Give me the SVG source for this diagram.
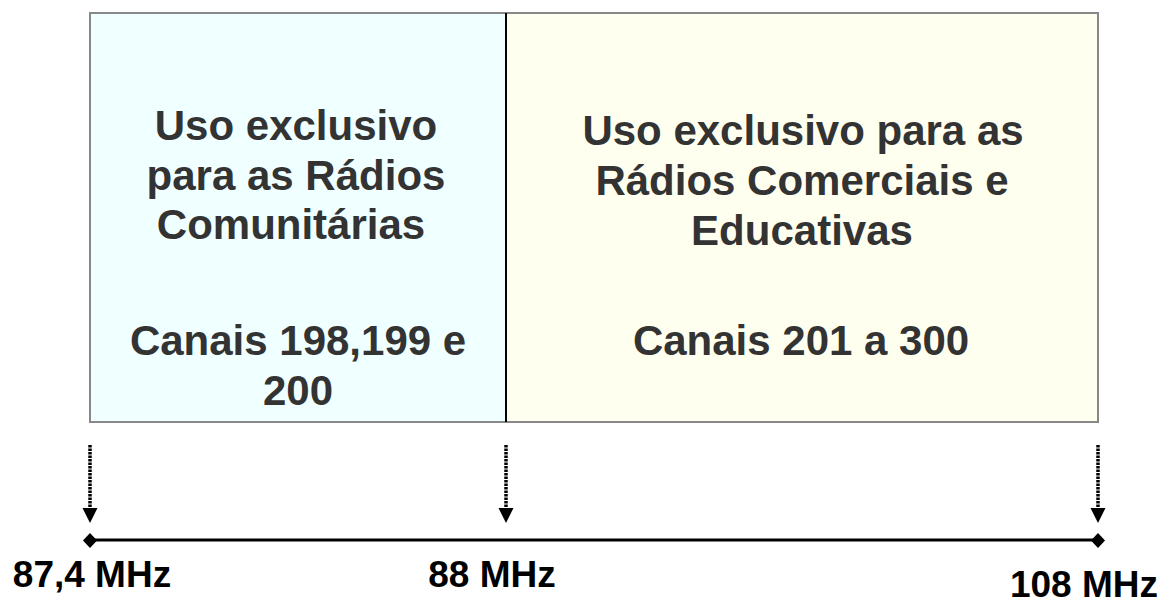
<svg xmlns="http://www.w3.org/2000/svg" width="1163" height="606" viewBox="0 0 1163 606">
<defs>
<style>
.t{font-family:"Liberation Sans",Arial,sans-serif;font-weight:bold;font-size:42px;fill:#333333;text-anchor:middle}
.l{font-family:"Liberation Sans",Arial,sans-serif;font-weight:bold;font-size:37px;fill:#000000;text-anchor:middle}
.dot{stroke:#000;stroke-width:3.5;stroke-dasharray:2.5 1;fill:none}
.ah{fill:#000}
</style>
</defs>
<rect width="1163" height="606" fill="#ffffff"/>
<g id="box-comunitarias">
<rect x="90" y="13" width="416" height="409" fill="#F0FFFF" stroke="#888888" stroke-width="2"/>
<text class="t" x="296" y="140">Uso exclusivo</text>
<text class="t" x="296" y="190">para as Rádios</text>
<text class="t" x="291" y="239">Comunitárias</text>
<text class="t" x="298" y="355">Canais 198,199 e</text>
<text class="t" x="298" y="405">200</text>
</g>
<g id="box-comerciais">
<rect x="506" y="13" width="592" height="409" fill="#FFFFF0" stroke="#888888" stroke-width="2"/>
<text class="t" x="803" y="145">Uso exclusivo para as</text>
<text class="t" x="802" y="195">Rádios Comerciais e</text>
<text class="t" x="802" y="245">Educativas</text>
<text class="t" x="801" y="355">Canais 201 a 300</text>
</g>
<line x1="506" y1="13" x2="506" y2="422" stroke="#000" stroke-width="2"/>
<g id="axis">
<line x1="90" y1="540" x2="1098" y2="540" stroke="#000" stroke-width="3"/>
<polygon class="ah" points="90,533 97,540.5 90,548 83,540.5"/>
<polygon class="ah" points="1098,533 1105,540.5 1098,548 1091,540.5"/>
</g>
<g id="label-874"><text class="l" x="92" y="587">87,4 MHz</text></g>
<g id="label-88"><text class="l" x="492" y="587">88 MHz</text></g>
<g id="label-108"><text class="l" x="1084" y="597">108 MHz</text></g>
<g id="connectors">
<line class="dot" x1="90" y1="445" x2="90" y2="509"/>
<polygon class="ah" points="82.5,508 97.5,508 90,523"/>
<line class="dot" x1="506" y1="445" x2="506" y2="509"/>
<polygon class="ah" points="498.5,508 513.5,508 506,523"/>
<line class="dot" x1="1098" y1="445" x2="1098" y2="509"/>
<polygon class="ah" points="1090.5,508 1105.5,508 1098,523"/>
</g>
</svg>
